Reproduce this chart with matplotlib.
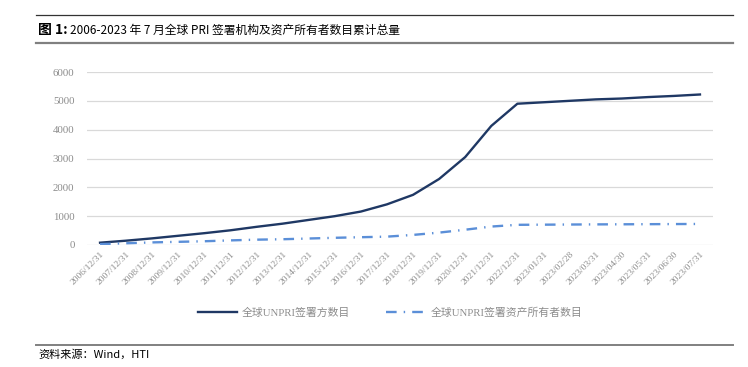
import matplotlib
matplotlib.use("Agg")
import matplotlib.pyplot as plt
from matplotlib.lines import Line2D

# x-axis dates
dates = ["2006/12/31", "2007/12/31", "2008/12/31", "2009/12/31", "2010/12/31",
         "2011/12/31", "2012/12/31", "2013/12/31", "2014/12/31", "2015/12/31",
         "2016/12/31", "2017/12/31", "2018/12/31", "2019/12/31", "2020/12/31",
         "2021/12/31", "2022/12/31", "2023/01/31", "2023/02/28", "2023/03/31",
         "2023/04/30", "2023/05/31", "2023/06/30", "2023/07/31"]

# signatories
signatories = [80, 150, 230, 320, 410, 510, 630, 740, 870, 1000,
               1160, 1410, 1740, 2290, 3050, 4130, 4900, 4950,
               5000, 5050, 5080, 5130, 5170, 5220]

# asset owners
asset_owners = [30, 60, 90, 110, 130, 160, 185, 200, 225, 250,
                270, 290, 350, 430, 530, 640, 700, 705,
                710, 715, 718, 722, 726, 730]

yticks = [0, 1000, 2000, 3000, 4000, 5000, 6000]

NAVY = "#1F3864"
BLUE = "#5B8FD8"
TICK_GRAY = "#8C8C8C"

fig = plt.figure(figsize=(7.48, 3.67), dpi=100)
W, H = 748, 367

def fx(px):
    return px / W

def fy(py):
    return 1 - py / H

ax = fig.add_axes([fx(87), fy(245), fx(713) - fx(87), fy(72) - fy(245)])
x = list(range(len(dates)))
ax.plot(x, signatories, color=NAVY, lw=1.7, solid_joinstyle="round",
        label="全球UNPRI签署方数目")
ax.plot(x, asset_owners, color=BLUE, lw=1.7, dashes=(4.5, 3, 0.6, 3),
        dash_capstyle="butt", label="全球UNPRI签署资产所有者数目")

ax.set_xlim(-0.5, len(dates) - 0.5)
ax.set_ylim(0, 6000)
ax.set_yticks(yticks)
ax.grid(axis="y", color="#D9D9D9", lw=0.9)
ax.set_axisbelow(True)
for s in ax.spines.values():
    s.set_visible(False)
ax.tick_params(axis="both", length=0, colors=TICK_GRAY)
ax.tick_params(axis="y", pad=9)
ax.set_yticklabels([str(v) for v in yticks], family="Liberation Serif", fontsize=7.8)
ax.set_xticks(x)
ax.set_xticklabels(dates, rotation=45, ha="right", rotation_mode="anchor",
                   family="Liberation Serif", fontsize=6.8, color=TICK_GRAY)
ax.tick_params(axis="x", pad=4)

leg_handles = [Line2D([], [], color=NAVY, lw=1.7),
               Line2D([], [], color=BLUE, lw=1.7, dashes=(4.5, 3, 0.6, 3))]
fig.legend(leg_handles, ["全球UNPRI签署方数目", "全球UNPRI签署资产所有者数目"],
           loc="center", bbox_to_anchor=(fx(390), fy(313)), ncol=2, frameon=False,
           handlelength=3.6, columnspacing=3.3, handletextpad=0.5,
           prop={"family": ["Liberation Serif", "Noto Sans CJK SC"], "size": 7.8},
           labelcolor=TICK_GRAY)

# header and footer rules
fig.add_artist(Line2D([fx(36), fx(733)], [fy(15), fy(15)], color="#333333", lw=0.9))
fig.add_artist(Line2D([fx(36), fx(733)], [fy(43), fy(43)], color="#808080", lw=1.6))
fig.add_artist(Line2D([fx(36), fx(733)], [fy(345), fy(345)], color="#808080", lw=1.4))

fig.text(fx(38), fy(30), "图 1:", fontsize=10, fontweight="bold",
         family=["Noto Sans CJK SC", "DejaVu Sans"], va="center", ha="left")
fig.text(fx(70), fy(30), "2006-2023 年 7 月全球 PRI 签署机构及资产所有者数目累计总量",
         fontsize=8.5, family=["Noto Sans CJK SC", "DejaVu Sans"], va="center", ha="left")
fig.text(fx(38), fy(354), "资料来源：Wind，HTI", fontsize=8,
         family=["Noto Sans CJK SC", "DejaVu Sans"], va="center", ha="left")

fig.savefig("out.png", dpi=100)
